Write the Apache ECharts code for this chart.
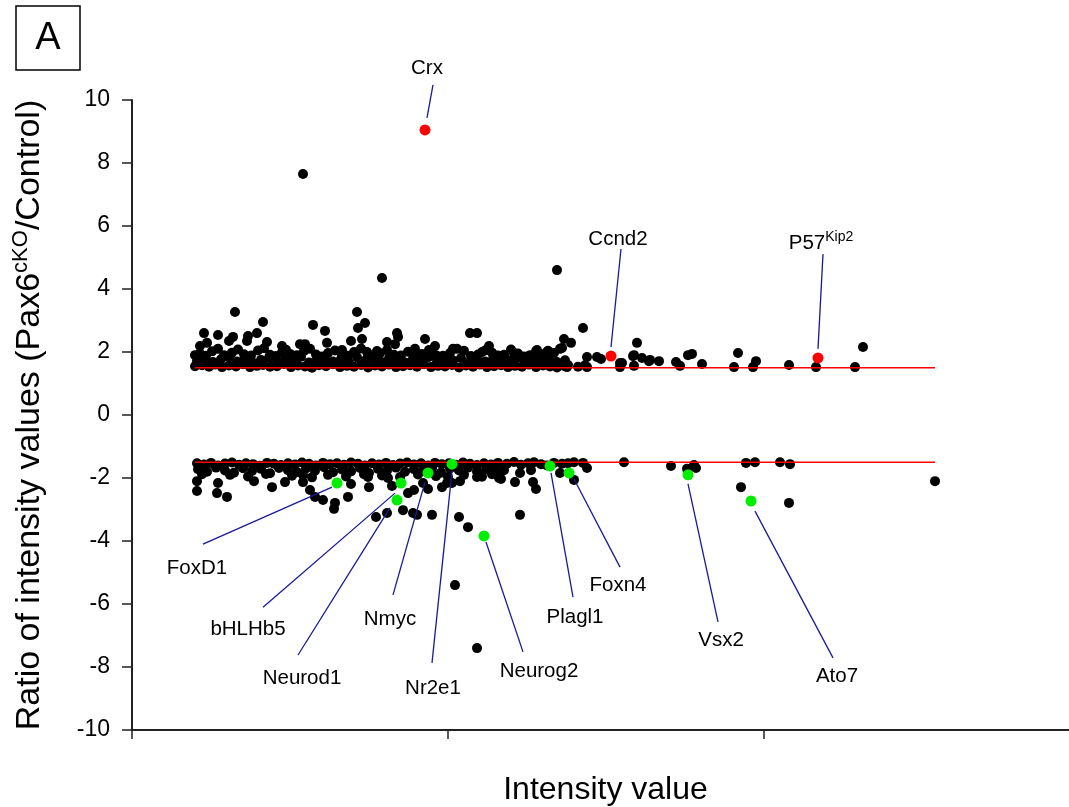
<!DOCTYPE html>
<html>
<head>
<meta charset="utf-8">
<title>Pax6 cKO ratio scatter</title>
<script src="https://cdn.jsdelivr.net/npm/echarts@6/dist/echarts.min.js"></script>
<style>
    html, body { margin: 0; padding: 0; background: #fff; }
    #chart { width: 1069px; height: 807px; }
</style>
</head>
<body>
<div id="chart"></div>
<script>
// x = intensity (arbitrary units), y = ratio Pax6cKO / Control
const yTicks = [-10, -8, -6, -4, -2, 0, 2, 4, 6, 8, 10];
const xTicks = [0, 316, 632];
const cutoff = [1.5, -1.5];
const cutoffSpan = [63, 803];

const upperRow1 = [[63,1.55],[70,1.58],[77,1.53],[83,1.6],[90,1.52],[97,1.57],[104,1.54],[111,1.61],[118,1.52],[125,1.56],[131,1.59],[138,1.53],[145,1.55],[152,1.62],[159,1.52],[166,1.57],[173,1.54],[180,1.5],[187,1.58],[194,1.55],[201,1.61],[208,1.52],[215,1.56],[222,1.53],[229,1.59],[236,1.51],[243,1.57],[250,1.54],[257,1.6],[264,1.52],[271,1.55],[278,1.58],[285,1.53],[292,1.61],[299,1.52],[306,1.56],[313,1.54],[320,1.59],[327,1.51],[334,1.57],[341,1.53],[348,1.6],[355,1.52],[362,1.55],[369,1.58],[376,1.52],[383,1.56],[390,1.53],[397,1.6],[404,1.52],[411,1.57],[418,1.54],[425,1.51],[432,1.56],[446,1.53],[453,1.58]];
const upperRow2 = [[65,1.72],[73,1.8],[81,1.68],[89,1.77],[97,1.84],[105,1.7],[113,1.79],[121,1.66],[129,1.75],[137,1.82],[145,1.69],[153,1.78],[161,1.73],[169,1.85],[177,1.67],[185,1.76],[193,1.81],[201,1.7],[209,1.78],[217,1.66],[225,1.83],[233,1.72],[241,1.77],[249,1.69],[257,1.8],[265,1.74],[273,1.67],[281,1.79],[289,1.71],[297,1.84],[305,1.68],[313,1.76],[321,1.73],[329,1.81],[337,1.67],[345,1.75],[353,1.7],[361,1.78],[369,1.66],[377,1.74],[385,1.8],[393,1.69],[401,1.76],[409,1.72],[417,1.78],[425,1.68],[433,1.74]];
const upperRow3 = [[68,1.95],[80,2.02],[92,1.9],[100,1.98],[112,1.93],[126,2.05],[138,1.91],[150,1.99],[158,1.94],[172,2.03],[184,1.92],[196,1.97],[210,1.9],[222,2.0],[236,1.93],[248,1.96],[262,1.91],[276,2.01],[290,1.94],[304,1.9],[318,1.97],[332,2.04],[346,1.92],[360,1.98],[372,1.91],[386,1.95],[398,1.9],[410,1.93]];
const upperRow4 = [[74,1.88],[86,2.1],[96,1.86],[106,2.08],[119,1.89],[132,2.12],[144,1.87],[154,2.07],[165,1.9],[178,2.1],[190,1.86],[203,2.05],[216,1.88],[229,2.11],[242,1.86],[255,2.06],[269,1.89],[283,1.87],[297,2.06],[311,1.88],[325,2.1],[339,1.87],[353,2.05],[366,1.89],[379,2.08],[392,1.86],[404,1.88],[416,2.04]];
const upperScatter = [[171,7.65],[250,4.35],[425,4.6],[103,3.27],[225,3.27],[131,2.95],[233,2.92],[226,2.76],[181,2.86],[193,2.67],[195,2.29],[72,2.6],[86,2.54],[97,2.35],[101,2.48],[116,2.51],[115,2.35],[125,2.6],[75,2.29],[68,2.19],[135,2.32],[150,2.19],[168,2.25],[173,2.25],[219,2.35],[230,2.41],[255,2.32],[265,2.6],[266,2.48],[263,2.25],[293,2.41],[338,2.6],[345,2.6],[357,2.19],[432,2.41],[439,2.29],[451,2.76],[210,2.06],[283,2.1],[235,2.0],[245,2.03],[63,1.9],[303,2.19],[321,2.1],[350,2.0],[382,1.97],[405,2.06],[415,2.0],[428,2.1],[404,2.03],[422,1.97],[430,2.13],[455,1.84],[465,1.84],[469,1.78],[488,1.65],[490,1.65],[501,1.87],[505,2.29],[502,1.9],[510,1.81],[517,1.71],[518,1.75],[527,1.71],[544,1.68],[548,1.56],[556,1.9],[560,1.94],[570,1.62],[606,1.97],[602,1.52],[624,1.71],[621,1.52],[657,1.59],[684,1.52],[723,1.52],[731,2.16],[455,1.52],[435,1.52],[436,1.59],[488,1.52],[502,1.56]];

const lowerRow1 = [[65,-1.53],[72,-1.57],[79,-1.52],[86,-1.6],[93,-1.54],[100,-1.51],[107,-1.58],[114,-1.53],[121,-1.56],[128,-1.61],[135,-1.52],[142,-1.55],[149,-1.59],[156,-1.53],[163,-1.57],[170,-1.51],[177,-1.55],[184,-1.6],[191,-1.52],[198,-1.56],[205,-1.53],[212,-1.58],[219,-1.51],[226,-1.55],[233,-1.6],[240,-1.53],[247,-1.57],[254,-1.52],[261,-1.59],[268,-1.54],[275,-1.51],[282,-1.57],[289,-1.53],[296,-1.6],[303,-1.52],[310,-1.56],[317,-1.53],[324,-1.58],[331,-1.51],[338,-1.55],[345,-1.59],[352,-1.53],[359,-1.57],[366,-1.52]];
const lowerRow2 = [[66,-1.72],[75,-1.8],[84,-1.67],[93,-1.76],[102,-1.83],[111,-1.69],[120,-1.78],[129,-1.71],[138,-1.85],[147,-1.68],[156,-1.75],[165,-1.81],[174,-1.7],[183,-1.77],[192,-1.66],[201,-1.82],[210,-1.73],[219,-1.79],[228,-1.68],[237,-1.84],[246,-1.71],[255,-1.77],[264,-1.67],[273,-1.8],[282,-1.72],[291,-1.78],[300,-1.69],[309,-1.83],[318,-1.7],[327,-1.76],[336,-1.67],[345,-1.79],[354,-1.73],[363,-1.68],[372,-1.75]];
const lowerRow3 = [[70,-1.88],[98,-1.9],[116,-1.95],[134,-1.87],[160,-1.93],[180,-1.98],[196,-1.9],[214,-1.95],[232,-1.88],[250,-1.92],[268,-1.97],[286,-1.89],[304,-1.94],[332,-1.9],[350,-1.96],[360,-1.88]];
const lowerScatter = [[65,-2.1],[65,-2.41],[86,-2.16],[85,-2.48],[95,-2.6],[122,-2.1],[140,-2.29],[153,-2.13],[171,-1.9],[171,-2.13],[178,-2.38],[183,-2.6],[191,-2.7],[203,-2.79],[202,-2.98],[216,-2.6],[219,-2.19],[244,-3.24],[255,-3.11],[260,-2.25],[271,-3.02],[282,-2.38],[281,-3.11],[285,-3.17],[291,-2.16],[296,-2.35],[300,-3.17],[315,-2.16],[320,-2.16],[316,-1.97],[328,-2.1],[327,-3.24],[336,-3.56],[323,-5.4],[345,-7.4],[345,-1.97],[367,-2.0],[310,-2.29],[276,-2.48],[237,-2.29],[256,-2.0],[236,-1.97],[382,-1.49],[402,-1.5],[422,-1.52],[442,-1.5],[451,-1.52],[455,-1.68],[492,-1.5],[539,-1.62],[555,-1.71],[562,-1.59],[564,-1.68],[614,-1.52],[623,-1.5],[648,-1.5],[658,-1.56],[609,-2.29],[657,-2.79],[803,-2.1],[388,-3.17],[442,-2.06],[428,-1.84],[401,-2.13],[404,-2.35],[383,-2.13],[388,-1.84],[399,-1.75],[369,-2.03],[368,-1.84],[375,-1.55],[389,-1.58],[396,-1.53],[409,-1.56],[415,-1.6],[430,-1.55],[436,-1.53]];

const upGeneNames = ['Crx', 'Ccnd2', 'P57Kip2'];
const upGenePoints = [[293,9.05],[479,1.87],[686,1.81]];
const downGeneNames = ['FoxD1', 'bHLHb5', 'Neurod1', 'Nmyc', 'Nr2e1', 'Neurog2', 'Plagl1', 'Foxn4', 'Vsx2', 'Ato7'];
const downGenePoints = [[205,-2.16],[269,-2.16],[265,-2.7],[296,-1.84],[320,-1.56],[352,-3.84],[418,-1.62],[437,-1.84],[556,-1.9],[619,-2.73]];

// where each gene name sits and where its leader line runs (axis units)
const labelAnchors = {
    'Crx': [[295,11.02],[301,10.48],[295,9.43]],
    'Ccnd2': [[486,5.59],[489,5.27],[479,2.16]],
    'P57Kip2': [[689,5.46],[691,5.11],[686,2.1]],
    'FoxD1': [[65,-4.86],[71,-4.1],[200,-2.29]],
    'bHLHb5': [[116,-6.79],[131,-6.1],[263,-2.48]],
    'Neurod1': [[170,-8.35],[166,-7.62],[258,-2.95]],
    'Nmyc': [[258,-6.48],[261,-5.71],[293,-2.13]],
    'Nr2e1': [[301,-8.67],[300,-7.87],[320,-1.78]],
    'Neurog2': [[407,-8.13],[391,-7.52],[354,-4.03]],
    'Plagl1': [[443,-6.41],[441,-5.78],[419,-1.84]],
    'Foxn4': [[486,-5.4],[488,-4.83],[442,-2.03]],
    'Vsx2': [[589,-7.14],[586,-6.57],[556,-2.19]],
    'Ato7': [[705,-8.29],[701,-7.71],[623,-3.05]]
};

const font = "'Liberation Sans', Arial, sans-serif";
const allNames = upGeneNames.concat(downGeneNames);

const chart = echarts.init(document.getElementById('chart'));
chart.setOption({
    animation: false,
    backgroundColor: '#fff',
    grid: { left: 132, top: 100, right: 0, bottom: 77, outerBoundsMode: 'none', containLabel: false },
    graphic: [
        { type: 'rect', shape: { x: 16, y: 6, width: 64, height: 64 },
          style: { fill: 'none', stroke: '#000', lineWidth: 1.5 } },
        { type: 'text', x: 48, y: 39,
          style: { text: 'A', font: '38px ' + font, fill: '#000', align: 'center', verticalAlign: 'middle' } }
    ],
    xAxis: {
        type: 'value',
        min: 0,
        max: 937,
        name: 'Intensity value',
        nameLocation: 'middle',
        nameGap: 44,
        nameTextStyle: { fontSize: 32, fontFamily: font, color: '#000', padding: [0, 0, 0, 10] },
        axisLine: { show: true, onZero: false, lineStyle: { color: '#222', width: 2 } },
        axisTick: { show: true, length: 9, customValues: xTicks, lineStyle: { color: '#222', width: 1.5 } },
        axisLabel: { show: false },
        splitLine: { show: false }
    },
    yAxis: {
        type: 'value',
        min: -10,
        max: 10,
        interval: 2,
        name: '{a|Ratio of intensity values (Pax6}{b|cKO}{a|/Control)}',
        nameLocation: 'middle',
        nameRotate: 90,
        nameGap: 82,
        nameTextStyle: {
            fontFamily: font,
            color: '#000',
            rich: {
                a: { fontSize: 34, fontFamily: font, color: '#000', lineHeight: 40 },
                b: { fontSize: 22, fontFamily: font, color: '#000', verticalAlign: 'top', lineHeight: 40 }
            }
        },
        axisLine: { show: true, onZero: false, lineStyle: { color: '#222', width: 2 } },
        axisTick: { show: true, length: 10, customValues: yTicks, lineStyle: { color: '#222', width: 1.5 } },
        axisLabel: { fontSize: 23, fontFamily: font, color: '#000', margin: 22, customValues: yTicks },
        splitLine: { show: false }
    },
    series: [
        {
            type: 'scatter',
            symbolSize: 10,
            itemStyle: { color: '#000', opacity: 1 },
            z: 2,
            data: upperRow1.concat(upperRow2, upperRow3, upperRow4, upperScatter, lowerRow1, lowerRow2, lowerRow3, lowerScatter)
        },
        {
            type: 'line',
            symbol: 'none',
            z: 3,
            lineStyle: { color: '#ff0000', width: 1.6 },
            data: cutoffSpan.map(x => [x, cutoff[0]])
        },
        {
            type: 'line',
            symbol: 'none',
            z: 3,
            lineStyle: { color: '#ff0000', width: 1.6 },
            data: cutoffSpan.map(x => [x, cutoff[1]])
        },
        {
            type: 'scatter',
            symbolSize: 11,
            z: 4,
            clip: false,
            itemStyle: { color: '#ff0000', opacity: 1 },
            data: upGenePoints
        },
        {
            type: 'scatter',
            symbolSize: 11,
            z: 4,
            itemStyle: { color: '#00ee00', opacity: 1 },
            data: downGenePoints
        },
        {
            type: 'lines',
            coordinateSystem: 'cartesian2d',
            clip: false,
            z: 5,
            lineStyle: { color: '#1a1a96', width: 1.3, opacity: 1 },
            data: allNames.map(n => ({ coords: [labelAnchors[n][1], labelAnchors[n][2]] }))
        },
        {
            type: 'scatter',
            symbolSize: 0,
            clip: false,
            z: 6,
            silent: true,
            itemStyle: { opacity: 1 },
            label: {
                show: true,
                position: 'inside',
                fontSize: 20.5,
                fontFamily: font,
                color: '#000',
                formatter: p => p.name === 'P57Kip2' ? '{p|P57}{s|Kip2}' : p.name,
                rich: {
                    p: { fontSize: 20.5, fontFamily: font, color: '#000', lineHeight: 26 },
                    s: { fontSize: 14, fontFamily: font, color: '#000', verticalAlign: 'top', lineHeight: 26 }
                }
            },
            data: allNames.map(n => ({ name: n, value: labelAnchors[n][0] }))
        }
    ]
});
</script>
</body>
</html>
